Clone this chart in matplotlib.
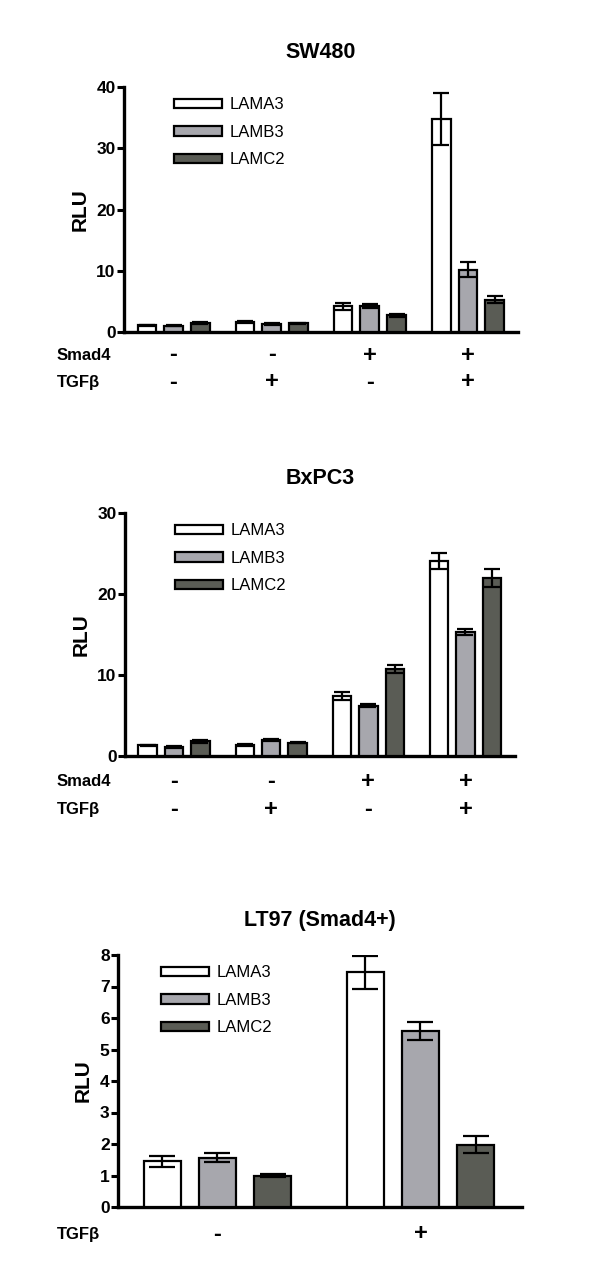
import numpy as np
import matplotlib
matplotlib.use("Agg")
import matplotlib.pyplot as plt

plt.rcParams['font.family'] = ['Liberation Sans', 'DejaVu Sans']

genes = ["LAMA3", "LAMB3", "LAMC2"]
colors = ["#ffffff", "#a7a7ad", "#5a5c55"]

# SW480
sw_mean = [[1.1, 1.7, 4.2, 34.8],
           [1.0, 1.3, 4.3, 10.2],
           [1.45, 1.4, 2.7, 5.3]]
sw_err = [[0.1, 0.15, 0.6, 4.3],
          [0.1, 0.1, 0.3, 1.3],
          [0.15, 0.15, 0.2, 0.6]]
sw_smad4 = ["-", "-", "+", "+"]
sw_tgfb = ["-", "+", "-", "+"]

# BxPC3
bx_mean = [[1.3, 1.36, 7.4, 24.1],
           [1.1, 1.97, 6.2, 15.3],
           [1.8, 1.65, 10.7, 22.0]]
bx_err = [[0.1, 0.1, 0.5, 1.0],
          [0.1, 0.1, 0.2, 0.4],
          [0.15, 0.05, 0.5, 1.1]]
bx_smad4 = ["-", "-", "+", "+"]
bx_tgfb = ["-", "+", "-", "+"]

# LT97
lt_mean = [[1.45, 7.45],
           [1.57, 5.58],
           [0.99, 1.98]]
lt_err = [[0.17, 0.53],
          [0.13, 0.28],
          [0.05, 0.26]]
lt_tgfb = ["-", "+"]

fig = plt.figure(figsize=(6, 12.88), dpi=100)
W, H = 600, 1288


def px_axes(l, r, t, b):
    return fig.add_axes([l / W, 1 - b / H, (r - l) / W, (b - t) / H])


def panel(ax, title, mean, err, ymax, yticks, rows, xlim, width, cap, leg_xy):
    n = len(mean[0])
    x = np.arange(n)
    pitch = 0.272
    for i in range(3):
        ax.bar(x + (i - 1) * pitch, mean[i], width, yerr=err[i], color=colors[i],
               edgecolor="black", linewidth=1.6, label=genes[i],
               error_kw=dict(ecolor="black", elinewidth=1.6, capsize=cap, capthick=1.6),
               zorder=3)
    ax.set_xlim(*xlim)
    ax.set_ylim(0, ymax)
    ax.set_yticks(yticks)
    ax.set_xticks([])
    for s in ["top", "right"]:
        ax.spines[s].set_visible(False)
    for s in ["left", "bottom"]:
        ax.spines[s].set_linewidth(2.4)
    ax.tick_params(axis="y", width=2.2, length=5, labelsize=12.5, pad=1)
    for lab in ax.get_yticklabels():
        lab.set_fontweight("bold")
    ax.set_ylabel("RLU", fontsize=15, fontweight="bold", labelpad=5)
    ax.set_title(title, fontsize=15.5, fontweight="bold", pad=21)
    ax.legend(loc="upper left", bbox_to_anchor=leg_xy, frameon=False,
              fontsize=12, handlelength=2.9, handleheight=0.5,
              labelspacing=0.75, handletextpad=0.45, borderaxespad=0)
    # condition rows under the axis
    for k, (name, signs, dy) in enumerate(rows):
        ax.annotate(name, xy=(57 / W, 0), xycoords=("figure fraction", "axes fraction"),
                    xytext=(0, -dy), textcoords="offset pixels",
                    ha="left", va="center", fontsize=12, fontweight="bold")
        for xi, s in zip(x, signs):
            ax.annotate(s, xy=(xi, 0), xycoords=("data", "axes fraction"),
                        xytext=(0, -dy), textcoords="offset pixels",
                        ha="center", va="center", fontsize=17, fontweight="bold")


ax1 = px_axes(124, 518, 87, 332)
panel(ax1, "SW480", sw_mean, sw_err, 40, [0, 10, 20, 30, 40],
      [("Smad4", sw_smad4, 23), ("TGFβ", sw_tgfb, 50)],
      (-0.505, 3.51), 0.19, 6, (0.11, 0.985))

ax2 = px_axes(125, 515, 513, 756)
panel(ax2, "BxPC3", bx_mean, bx_err, 30, [0, 10, 20, 30],
      [("Smad4", bx_smad4, 25), ("TGFβ", bx_tgfb, 53)],
      (-0.505, 3.51), 0.19, 6, (0.11, 0.985))

ax3 = px_axes(118, 522, 955, 1207)
panel(ax3, "LT97 (Smad4+)", lt_mean, lt_err, 8, list(range(9)),
      [("TGFβ", lt_tgfb, 27)],
      (-0.49, 1.5), 0.18, 9.5, (0.09, 0.985))

fig.savefig("out.png", dpi=100)
